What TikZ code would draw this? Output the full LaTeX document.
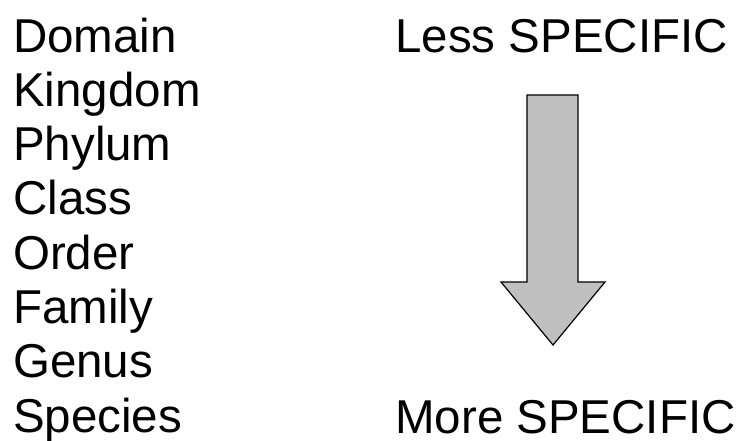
\documentclass[tikz,border=0pt]{standalone}
\usepackage{fontspec}
\setmainfont{Liberation Sans}
\definecolor{arrowgray}{HTML}{C0C0C0}
\begin{document}
\begin{tikzpicture}[x=1pt, y=-1pt,
  rank/.style={anchor=base west, inner sep=0pt, font=\fontsize{47.5}{47.5}\selectfont},
  bigarrow/.style={draw=black, fill=arrowgray, line width=1.2pt, line join=miter}]
  \useasboundingbox (0,0) rectangle (741,440);
  % taxonomic ranks, top to bottom
  \foreach \rname [count=\i] in {Domain, Kingdom, Phylum, Class, Order, Family, Genus, Species}
    \node[rank] (r\i) at (13, {52+54.3*(\i-1)}) {\rname};
  \node[rank] (less) at (395, 52) {Less SPECIFIC};
  \node[rank] (more) at (395, 433) {More SPECIFIC};
  % block arrow
  \draw[bigarrow] (527,95) -- (578,95) -- (578,282) -- (605,282)
    -- (553,345) -- (501,282) -- (527,282) -- cycle;
\end{tikzpicture}
\end{document}
